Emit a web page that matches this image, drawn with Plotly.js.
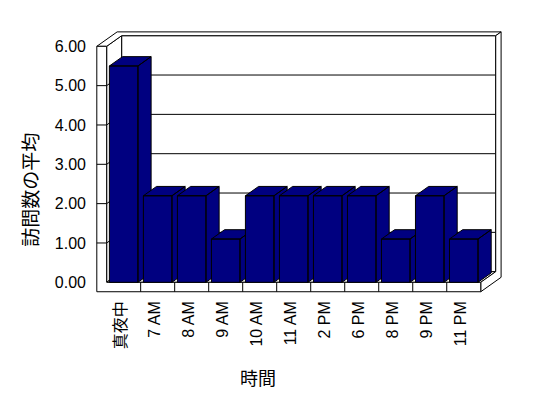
<!DOCTYPE html>
<html>
<head>
<meta charset="utf-8">
<script src="https://cdn.plot.ly/plotly-3.0.1.min.js"></script>
<style>html,body{margin:0;padding:0;background:#fff;}#chart{width:548px;height:398px;}</style>
</head>
<body>
<div id="chart"></div>
<script>
// ---- data ----
const categories = ['真夜中', '7 AM', '8 AM', '9 AM', '10 AM', '11 AM', '2 PM', '6 PM', '8 PM', '9 PM', '11 PM'];
const values = [5.5, 2.2, 2.2, 1.1, 2.2, 2.2, 2.2, 2.2, 1.1, 2.2, 1.1];
const yTicks = [0, 1, 2, 3, 4, 5, 6];
const xTitle = '時間';
const yTitle = '訪問数の平均';

// ---- 3D style (oblique projection) ----
const BAR_W = 0.84;
const KX = 0.44, KY = 0.27;       // projection offset per unit depth
const Z_IN = 1, Z_OUT = 1.36, Z_BAR = 0.88;
const WALL_T = 0.29, FLOOR_T = 0.24;
const BAR_COLOR = '#000080';
const n = categories.length;
const YMAX = yTicks[yTicks.length - 1];
const XLi = -0.5, XLo = -0.5 - WALL_T, XR = n - 0.5;

function P(x, y, z) { return [x + z * KX, y + z * KY]; }
function polys(list, fill) {
  const xs = [], ys = [];
  list.forEach((pts, k) => {
    if (k > 0) { xs.push(null); ys.push(null); }
    pts.forEach(p => { xs.push(p[0]); ys.push(p[1]); });
    xs.push(pts[0][0]); ys.push(pts[0][1]);
  });
  return {x: xs, y: ys, mode: 'lines', fill: 'toself', fillcolor: fill,
    line: {color: '#000', width: 1}, hoverinfo: 'skip', showlegend: false};
}
function lines(segs) {
  const xs = [], ys = [];
  segs.forEach(s => { xs.push(s[0][0], s[1][0], null); ys.push(s[0][1], s[1][1], null); });
  return {x: xs, y: ys, mode: 'lines', line: {color: '#000', width: 1}, hoverinfo: 'skip', showlegend: false};
}

const traces = [];
// back wall face
traces.push(polys([[P(XLi, 0, Z_IN), P(XR, 0, Z_IN), P(XR, YMAX, Z_IN), P(XLi, YMAX, Z_IN)]], '#fff'));
// left wall inner face
traces.push(polys([[P(XLi, 0, 0), P(XLi, 0, Z_IN), P(XLi, YMAX, Z_IN), P(XLi, YMAX, 0)]], '#fff'));
// gridlines
const inner = yTicks.filter(v => v > 0 && v < YMAX);
traces.push(lines(inner.map(v => [P(XLi, v, Z_IN), P(XR, v, Z_IN)])));
traces.push(lines(inner.map(v => [P(XLi, v, 0), P(XLi, v, Z_IN)])));
// floor top
traces.push(polys([[P(XLi, 0, 0), P(XR, 0, 0), P(XR, 0, Z_IN), P(XLi, 0, Z_IN)]], '#fff'));
// top strip of walls
traces.push(polys([[P(XLo, YMAX, 0), P(XLi, YMAX, 0), P(XLi, YMAX, Z_IN), P(XR, YMAX, Z_IN),
  P(XR, YMAX, Z_OUT), P(XLo, YMAX, Z_OUT)]], '#fff'));
// right side of back wall + floor
traces.push(polys([[P(XR, 0, 0), P(XR, -FLOOR_T, 0), P(XR, -FLOOR_T, Z_OUT), P(XR, YMAX, Z_OUT),
  P(XR, YMAX, Z_IN), P(XR, 0, Z_IN)]], '#fff'));
// front L (left wall edge + floor edge)
traces.push(polys([[P(XLo, YMAX, 0), P(XLi, YMAX, 0), P(XLi, 0, 0), P(XR, 0, 0),
  P(XR, -FLOOR_T, 0), P(XLo, -FLOOR_T, 0)]], '#fff'));
// floor dividers and left wall ticks
const divs = [];
for (let i = 0; i < n - 1; i++) divs.push([P(i + 0.5, -FLOOR_T, 0), P(i + 0.5, 0, 0)]);
inner.forEach(v => divs.push([P(XLo, v, 0), P(XLi, v, 0)]));
traces.push(lines(divs));
// bars
values.forEach((v, i) => {
  const l = i - BAR_W / 2, r = i + BAR_W / 2;
  traces.push(polys([
    [P(l, 0, 0), P(r, 0, 0), P(r, v, 0), P(l, v, 0)],
    [P(l, v, 0), P(r, v, 0), P(r, v, Z_BAR), P(l, v, Z_BAR)],
    [P(r, 0, 0), P(r, 0, Z_BAR), P(r, v, Z_BAR), P(r, v, 0)]
  ], BAR_COLOR));
});

const FONT = {family: '"Liberation Sans", "Noto Sans CJK JP", sans-serif', size: 16, color: '#000'};
const TFONT = {family: '"Noto Sans CJK JP", "Liberation Sans", sans-serif', size: 18, color: '#000'};
const layout = {
  width: 548, height: 398,
  margin: {l: 90, r: 38, t: 25, b: 105},
  paper_bgcolor: '#fff', plot_bgcolor: '#fff',
  showlegend: false, hovermode: false,
  font: FONT,
  xaxis: {range: [-0.99, 11.36], tickvals: categories.map((c, i) => i), ticktext: categories,
    tickangle: -90, showgrid: false, zeroline: false, showline: false, ticks: '', tickfont: FONT,
    ticklabelstandoff: 4, ticklabelshift: -3, fixedrange: true},
  yaxis: {range: [-0.272, 6.542], tickvals: yTicks, tickformat: '.2f', showgrid: false,
    zeroline: false, showline: false, ticks: '', tickfont: FONT, ticklabelstandoff: 3, fixedrange: true},
  annotations: [
    {text: xTitle, xref: 'paper', yref: 'paper', x: 0.4, y: -0.315, showarrow: false, font: TFONT,
      xanchor: 'center', yanchor: 'middle'},
    {text: yTitle, xref: 'paper', yref: 'paper', x: -0.143, y: 0.385, showarrow: false,
      font: Object.assign({}, TFONT, {size: 19}), textangle: -90, xanchor: 'center', yanchor: 'middle'}
  ]
};
Plotly.newPlot('chart', traces, layout, {displayModeBar: false, staticPlot: true});
</script>
</body>
</html>
